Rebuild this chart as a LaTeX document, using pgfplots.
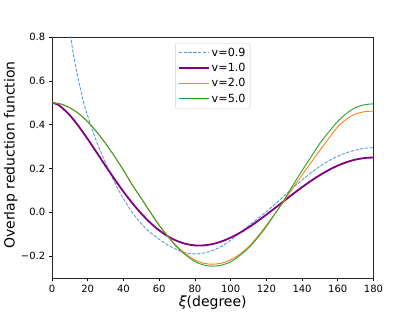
\documentclass[border=0pt]{standalone}
\usepackage{pgfplots}
\pgfplotsset{compat=1.18}
\usepackage{fontspec}
\setmainfont{DejaVu Sans}
\definecolor{cblue}{RGB}{90,156,212}
\definecolor{cpurple}{RGB}{128,0,128}
\definecolor{corange}{RGB}{255,127,14}
\definecolor{cgreen}{RGB}{44,160,44}
\begin{document}
\begin{tikzpicture}[x=1pt,y=1pt]
\begin{axis}[
  at={(0pt,0pt)}, anchor=south west,
  scale only axis, width=321.5pt, height=241pt,
  xmin=0, xmax=180, ymin=-0.3, ymax=0.8,
  xtick={0,20,...,180},
  ytick={-0.2,0,0.2,0.4,0.6,0.8},
  yticklabels={−0.2,0.0,0.2,0.4,0.6,0.8},
  /pgf/number format/assume math mode=true,
  ticklabel style={font=\fontsize{10}{12}\selectfont},
  tick align=outside, xtick pos=bottom, ytick pos=left,
  major tick length=3.2pt,
  tick style={black, line width=0.6pt},
  axis line style={line width=0.7pt, black!85},
  xlabel={\textit{ξ}(degree)},
  ylabel={Overlap reduction function},
  label style={font=\fontsize{14}{16}\selectfont},
  xlabel style={at={(axis description cs:0.5,0)}, anchor=north, yshift=-14pt},
  ylabel style={at={(axis description cs:-0.128,0.51)}, anchor=center, rotate=0},
  legend style={at={(0.5,0.974)}, anchor=north, draw=black!20, rounded corners=2pt,
    font=\fontsize{11.2}{13.5}\selectfont, inner sep=2.5pt, row sep=1.5pt,
    legend cell align=left},
  legend image code/.code={\draw[#1] (0pt,0pt) -- (23pt,0pt); \path (0pt,0pt) -- (30pt,0pt);},
  every axis plot/.append style={smooth},
]
\addplot[cblue, line width=0.9pt, dash pattern=on 3.3pt off 1.5pt] coordinates {
(8,0.96)(9,0.885)(10,0.83)(11,0.772)(12,0.72)(14,0.635)(16,0.56)(18,0.492)(20,0.44)(22,0.39)(25,0.322)(30,0.226)(35,0.137)(40,0.062)(45,-0.002)(50,-0.052)(55,-0.092)(60,-0.123)(65,-0.150)(70,-0.171)(75,-0.185)(80,-0.190)(85,-0.186)(90,-0.174)(95,-0.155)(100,-0.128)(105,-0.095)(110,-0.062)(115,-0.030)(120,0.003)(125,0.038)(130,0.075)(135,0.112)(140,0.147)(145,0.180)(150,0.210)(155,0.235)(160,0.256)(165,0.272)(170,0.284)(175,0.292)(180,0.295)};
\addlegendentry{v=0.9}
\addplot[cpurple, line width=1.8pt] coordinates {
(0,0.5)(2.5,0.4944)(5,0.4816)(10,0.4425)(15,0.3917)(20,0.3341)(25,0.2732)(30,0.2116)(35,0.1514)(40,0.0942)(45,0.0414)(50,-0.0062)(55,-0.0476)(60,-0.0824)(65,-0.1102)(70,-0.1309)(75,-0.1445)(80,-0.1511)(85,-0.1511)(90,-0.1449)(95,-0.1329)(100,-0.1159)(105,-0.0945)(110,-0.0693)(115,-0.0413)(120,-0.0111)(125,0.0203)(130,0.0522)(135,0.0839)(140,0.1145)(145,0.1433)(150,0.1697)(155,0.1931)(160,0.2130)(165,0.2289)(170,0.2405)(175,0.2476)(180,0.2500)};
\addlegendentry{v=1.0}
\addplot[corange, line width=0.9pt] coordinates {
(0,0.5)(5,0.494)(10,0.477)(15,0.450)(20,0.413)(25,0.367)(30,0.314)(35,0.255)(40,0.192)(45,0.124)(50,0.064)(55,0.002)(60,-0.058)(65,-0.110)(70,-0.155)(75,-0.190)(80,-0.218)(85,-0.233)(90,-0.237)(95,-0.232)(100,-0.217)(105,-0.192)(110,-0.158)(115,-0.112)(120,-0.060)(125,-0.005)(130,0.052)(135,0.113)(140,0.170)(145,0.227)(150,0.283)(155,0.338)(160,0.390)(165,0.426)(170,0.449)(175,0.459)(180,0.462)};
\addlegendentry{v=2.0}
\addplot[cgreen, line width=0.9pt] coordinates {
(0,0.5)(5,0.494)(10,0.477)(15,0.450)(20,0.413)(25,0.367)(30,0.314)(35,0.255)(40,0.192)(45,0.124)(50,0.063)(55,0.000)(60,-0.060)(65,-0.112)(70,-0.160)(75,-0.196)(80,-0.225)(85,-0.241)(90,-0.246)(95,-0.241)(100,-0.226)(105,-0.198)(110,-0.163)(115,-0.118)(120,-0.065)(125,-0.005)(130,0.058)(135,0.125)(140,0.190)(145,0.252)(150,0.315)(155,0.367)(160,0.415)(165,0.452)(170,0.478)(175,0.491)(180,0.495)};
\addlegendentry{v=5.0}
\end{axis}
\path (-52pt,-34pt) rectangle (363pt,278pt);
\end{tikzpicture}
\end{document}
